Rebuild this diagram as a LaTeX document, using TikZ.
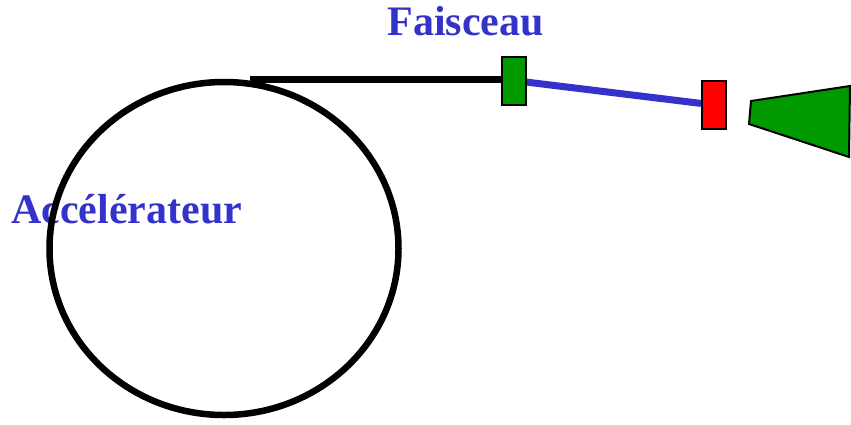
\documentclass[tikz,border=0pt]{standalone}
\usepackage{fontspec}
\setmainfont{Liberation Serif}
\definecolor{beamblue}{HTML}{3333CC}
\definecolor{boxgreen}{HTML}{009900}
\definecolor{boxred}{HTML}{FF0000}
\tikzset{
  label text/.style={text=beamblue, font=\fontsize{42}{42}\selectfont\bfseries, inner sep=0pt},
  magnet/.style={draw=black, line width=2pt, rectangle, minimum width=24pt, minimum height=48pt, inner sep=0pt},
  ring/.style={draw=black, line width=6.5pt},
  extraction/.style={draw=black, line width=6.5pt},
  beam/.style={draw=beamblue, line width=7pt},
}
\begin{document}
\begin{tikzpicture}[x=1pt,y=-1pt]
  \useasboundingbox (0,0) rectangle (851,424);

  % labels
  \node[label text, anchor=base west] (acclabel) at (11,223) {Accélérateur};
  \node[label text, anchor=base] (beamlabel) at (465.5,35) {Faisceau};

  % accelerator ring
  \draw[ring] (224,248.5) ellipse [x radius=174.5pt, y radius=166.5pt];

  % elements along the beam line
  \node[magnet, fill=boxgreen] (g) at (513.5,80.5) {};
  \node[magnet, fill=boxred] (r) at (714,105) {};
  \coordinate (tap) at (250,79.5);

  % extraction line and beam
  \draw[extraction] (tap) -- (g.west |- tap);
  \draw[beam] (g) -- (r);
  \node[magnet, fill=boxgreen] at (g) {};
  \node[magnet, fill=boxred] at (r) {};

  % detector cone
  \draw[fill=boxgreen, line width=2pt, line join=miter]
    (751,101) -- (749,124) -- (849,157) -- (850,86) -- cycle;
\end{tikzpicture}
\end{document}
